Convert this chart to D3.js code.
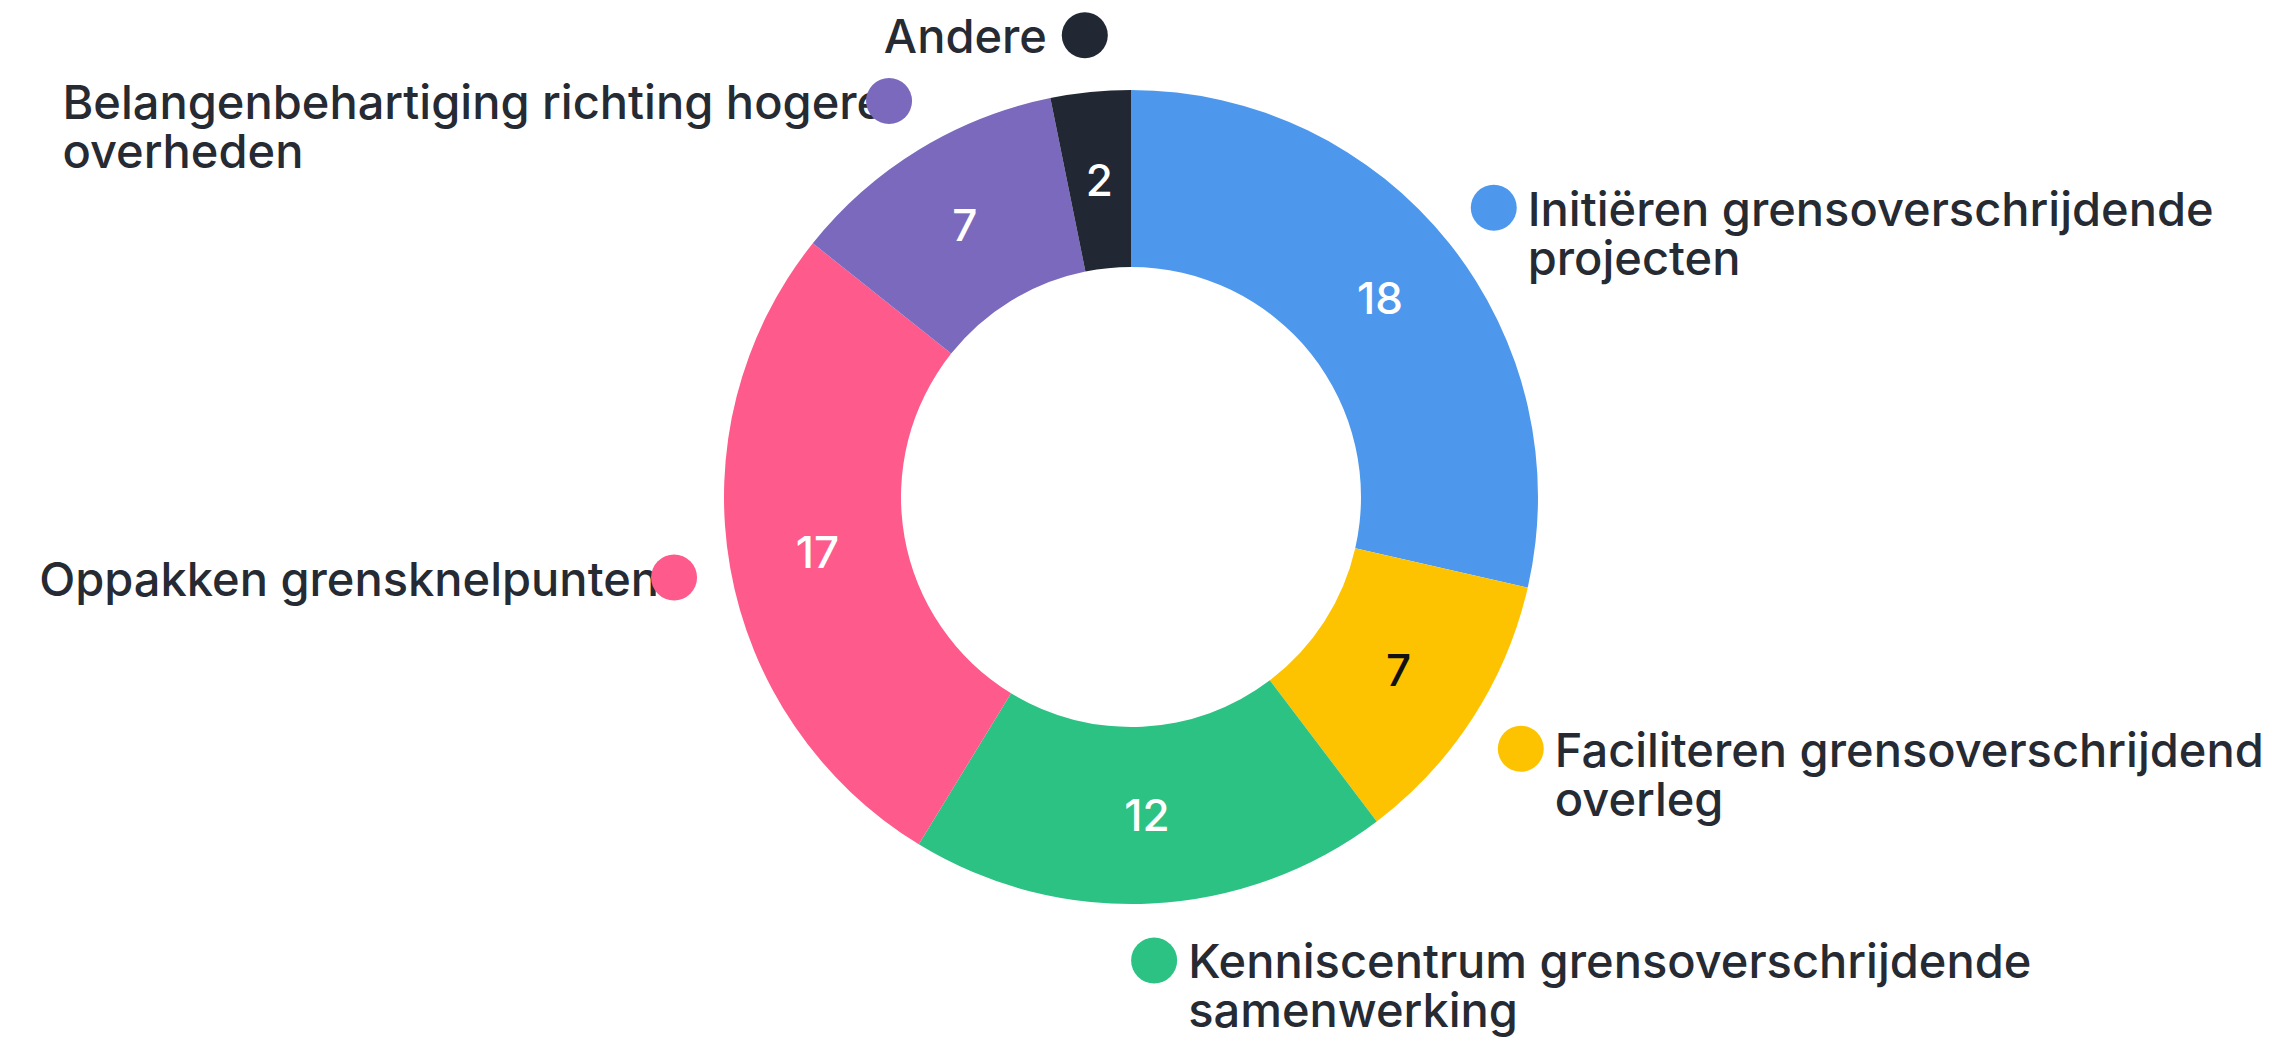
<!DOCTYPE html>
<html>
<head>
<meta charset="utf-8">
<script src="https://cdn.jsdelivr.net/npm/d3@7"></script>
<style>
  html, body { margin: 0; padding: 0; background: #ffffff; }
  svg { display: block; }
  text { font-family: Inter, "Noto Sans", sans-serif; }
</style>
</head>
<body>
<script>
const categories = [
  "Initiëren grensoverschrijdende projecten",
  "Faciliteren grensoverschrijdend overleg",
  "Kenniscentrum grensoverschrijdende samenwerking",
  "Oppakken grensknelpunten",
  "Belangenbehartiging richting hogere overheden",
  "Andere"
];
const labelLines = [
  ["Initiëren grensoverschrijdende", "projecten"],
  ["Faciliteren grensoverschrijdend", "overleg"],
  ["Kenniscentrum grensoverschrijdende", "samenwerking"],
  ["Oppakken grensknelpunten"],
  ["Belangenbehartiging richting hogere", "overheden"],
  ["Andere"]
];
const values = [18, 7, 12, 17, 7, 2];
const colors = ["#4d98ed", "#fec300", "#2cc284", "#fe5a8c", "#7b69be", "#212733"];
const valueTextColors = ["#ffffff", "#111111", "#ffffff", "#ffffff", "#ffffff", "#ffffff"];

const W = 2281, H = 1040;
const cx = 1131, cy = 497;
const innerR = 230, outerR = 407, labelR = 464;
const fontSize = 47, valueFontSize = 44, lineH = 49, dotR = 23;
const textColor = "#262a33";

const svg = d3.select("body").append("svg").attr("width", W).attr("height", H);
const g = svg.append("g").attr("transform", `translate(${cx},${cy})`);

const pie = d3.pie().sort(null).value(d => d.value).startAngle(0).endAngle(2 * Math.PI);
const data = categories.map((c, i) => ({ name: c, value: values[i], i }));
const arcs = pie(data);

const arc = d3.arc().innerRadius(innerR).outerRadius(outerR);

g.selectAll("path.slice").data(arcs).join("path")
  .attr("class", "slice")
  .attr("d", arc)
  .attr("fill", d => colors[d.data.i]);

g.selectAll("text.val").data(arcs).join("text")
  .attr("class", "val")
  .attr("transform", d => `translate(${arc.centroid(d)})`)
  .attr("text-anchor", "middle")
  .attr("dominant-baseline", "central")
  .attr("font-size", valueFontSize)
  .attr("font-weight", 500)
  .attr("fill", d => valueTextColors[d.data.i])
  .text(d => d.data.value);

const labelArc = d3.arc().innerRadius(labelR).outerRadius(labelR);

const lg = g.selectAll("g.lab").data(arcs).join("g")
  .attr("class", "lab")
  .attr("transform", d => `translate(${labelArc.centroid(d)})`);

lg.each(function (d) {
  const sel = d3.select(this);
  const mid = (d.startAngle + d.endAngle) / 2;
  const left = mid > Math.PI;
  const t = sel.append("text")
    .attr("font-size", fontSize)
    .attr("font-weight", 500)
    .attr("fill", textColor);
  labelLines[d.data.i].forEach((ln, k) => {
    t.append("tspan").attr("x", 0).attr("y", 18 + k * lineH).text(ln);
  });
  let x0 = 34;
  if (left) {
    const w = t.node().getBBox().width;
    x0 = -46 - 0.95 * w;
  }
  t.selectAll("tspan").attr("x", x0);
  sel.append("circle").attr("r", dotR).attr("fill", colors[d.data.i]);
});
</script>
</body>
</html>
